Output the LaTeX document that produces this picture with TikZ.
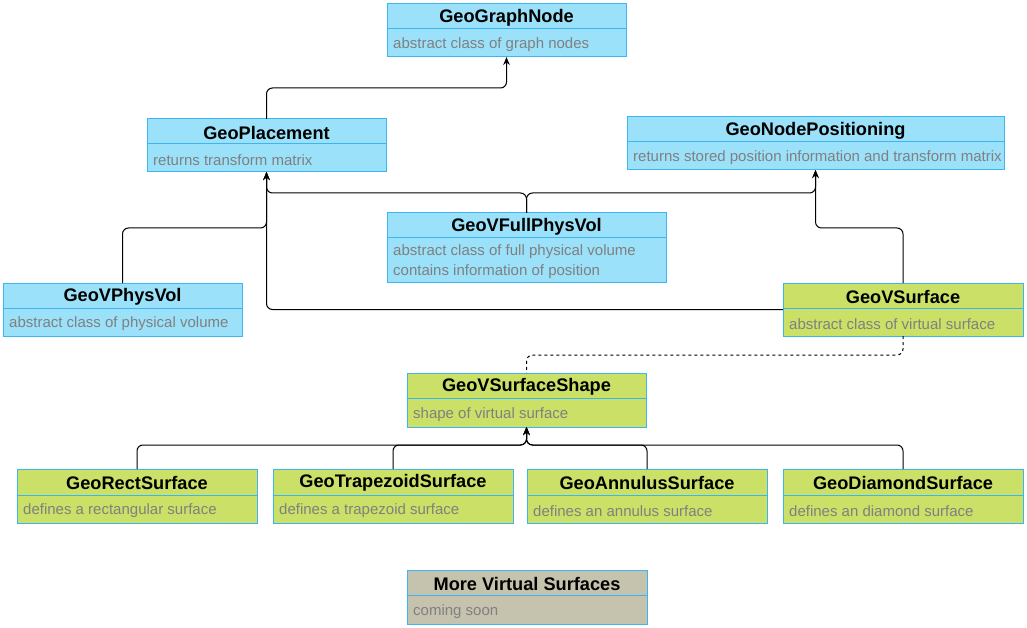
\documentclass[tikz,border=0pt]{standalone}
\usepackage{fontspec}
\setmainfont{Liberation Sans}
\usetikzlibrary{arrows.meta}
\definecolor{bluefill}{HTML}{9AE1F9}
\definecolor{greenfill}{HTML}{CBE066}
\definecolor{grayfill}{HTML}{C5C3AE}
\definecolor{boxline}{HTML}{3DB5F2}
\definecolor{bodygray}{HTML}{808080}
\tikzset{
  cls/.style={draw=boxline, line width=1pt, inner sep=0pt, outer sep=0pt, rectangle},
  divider/.style={draw=boxline, line width=1pt},
  titletext/.style={font=\fontsize{18.2}{21}\selectfont\bfseries, text=black, inner sep=0pt},
  bodytext/.style={font=\fontsize{15}{20}\selectfont, text=bodygray, inner sep=0pt, align=left, anchor=west},
  conn/.style={draw=black, line width=1pt, rounded corners=6pt},
  arr/.style={conn, -{Stealth[length=8pt,width=6.5pt]}},
  dashconn/.style={draw=black, line width=1pt, rounded corners=6pt, dash pattern=on 3pt off 3pt}
}
% #1 name, #2 x, #3 y, #4 w, #5 h, #6 header h, #7 fill, #8 title, #9 body
\newcommand{\umlbox}[9]{%
  \node[cls, fill=#7, minimum width=#4pt, minimum height=#5pt, anchor=north west] (#1) at (#2,#3) {};
  \draw[divider] ([shift={(0,#6)}]#1.north west) -- ([shift={(0,#6)}]#1.north east);
  \node[titletext] (#1-t) at ([shift={(0,{#6/2+1.2})}]#1.north) {#8};
  \node[bodytext] (#1-b) at ([shift={(6,{(#6+#5)/2+1.8})}]#1.north west) {#9};
}
\begin{document}
\begin{tikzpicture}[x=1pt,y=-1pt]
\useasboundingbox (0,0) rectangle (1027,628);
\umlbox{GeoGraphNode}{387}{4}{239}{53}{25}{bluefill}{GeoGraphNode}{abstract class of graph nodes}
\umlbox{GeoPlacement}{147}{119}{239}{53}{25}{bluefill}{GeoPlacement}{returns transform matrix}
\umlbox{GeoNodePositioning}{627}{117}{377}{53}{25}{bluefill}{GeoNodePositioning}{returns stored position information and transform matrix}
\umlbox{GeoVFullPhysVol}{387}{213}{279}{69}{25}{bluefill}{GeoVFullPhysVol}{abstract class of full physical volume\\contains information of position}
\umlbox{GeoVPhysVol}{3}{283}{239}{53}{25}{bluefill}{GeoVPhysVol}{abstract class of physical volume}
\umlbox{GeoVSurface}{783}{283}{240}{53}{25}{greenfill}{GeoVSurface}{abstract class of virtual surface}
\umlbox{GeoVSurfaceShape}{407}{373}{239}{54}{25}{greenfill}{GeoVSurfaceShape}{shape of virtual surface}
\umlbox{GeoRectSurface}{17}{469}{240}{54}{26}{greenfill}{GeoRectSurface}{defines a rectangular surface}
\umlbox{GeoTrapezoidSurface}{273}{469}{240}{54}{26}{greenfill}{GeoTrapezoidSurface}{defines a trapezoid surface}
\umlbox{GeoAnnulusSurface}{527}{469}{240}{54}{26}{greenfill}{GeoAnnulusSurface}{defines an annulus surface}
\umlbox{GeoDiamondSurface}{783}{469}{240}{54}{26}{greenfill}{GeoDiamondSurface}{defines an diamond surface}
\umlbox{MoreSurfaces}{407}{570}{240}{54}{25}{grayfill}{More Virtual Surfaces}{coming soon}

% connectors
\draw[arr] (GeoPlacement.north) -- ++(0,-31) -| (GeoGraphNode.south);
\draw[arr] (GeoVPhysVol.north) -- ++(0,-55) -| (GeoPlacement.south);
\draw[arr] (GeoVFullPhysVol.north) -- ++(0,-20) -| (GeoPlacement.south);
\draw[arr] (GeoVFullPhysVol.north) -- ++(0,-20) -| (GeoNodePositioning.south);
\draw[arr] (GeoVSurface.west) -| (GeoPlacement.south);
\draw[arr] (GeoVSurface.north) -- ++(0,-55) -| (GeoNodePositioning.south);
\draw[dashconn] (GeoVSurface.south) -- ++(0,19) -| (GeoVSurfaceShape.north);
\draw[arr] (GeoRectSurface.north) -- ++(0,-24) -| (GeoVSurfaceShape.south);
\draw[arr] (GeoTrapezoidSurface.north) -- ++(0,-24) -| (GeoVSurfaceShape.south);
\draw[arr] (GeoAnnulusSurface.north) -- ++(0,-24) -| (GeoVSurfaceShape.south);
\draw[arr] (GeoDiamondSurface.north) -- ++(0,-24) -| (GeoVSurfaceShape.south);
\end{tikzpicture}
\end{document}
